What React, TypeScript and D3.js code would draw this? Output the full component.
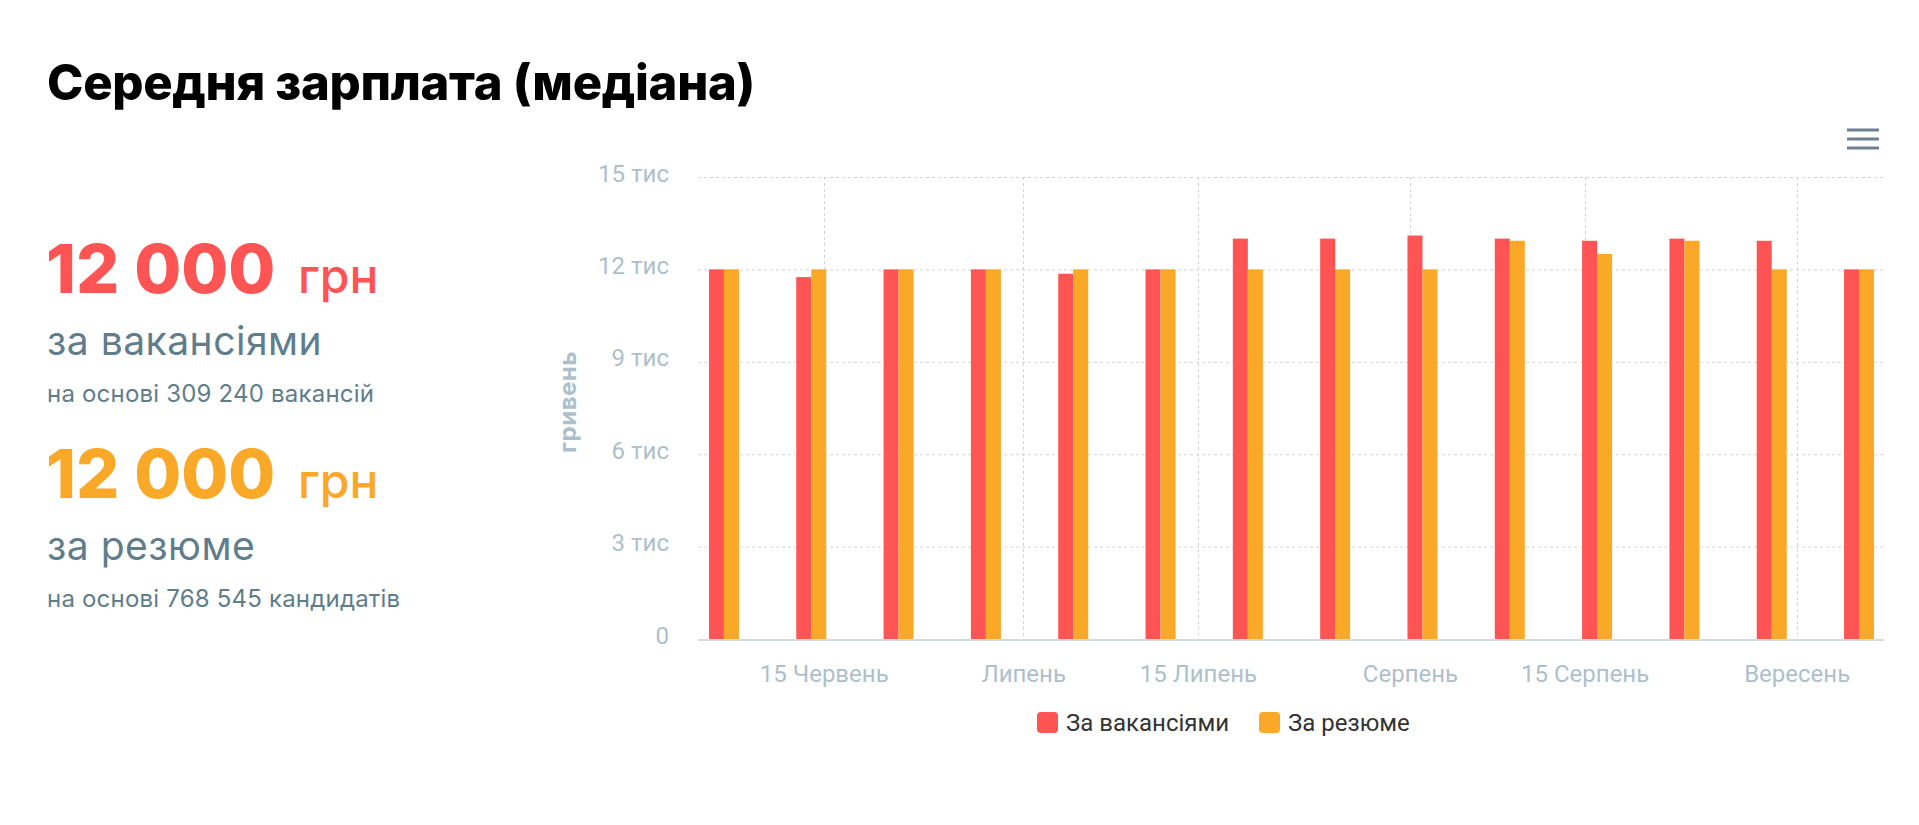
import { useEffect, useRef } from "react";
import * as d3 from "d3";

// weekly medians, summer 2020
const weeks = [
  "2020-06-07", "2020-06-14", "2020-06-21", "2020-06-28", "2020-07-05",
  "2020-07-12", "2020-07-19", "2020-07-26", "2020-08-02", "2020-08-09",
  "2020-08-16", "2020-08-23", "2020-08-30", "2020-09-06",
];
const vacancyMedian = [12000, 11750, 12000, 12000, 11860, 12000, 13000, 13000, 13100, 13000, 12930, 13000, 12930, 12000];
const resumeMedian = [12000, 12000, 12000, 12000, 12000, 12000, 12000, 12000, 12000, 12930, 12500, 12930, 12000, 12000];

const xTickDates = ["2020-06-15", "2020-07-01", "2020-07-15", "2020-08-01", "2020-08-15", "2020-09-01"];
const xTickLabels = ["15 Червень", "Липень", "15 Липень", "Серпень", "15 Серпень", "Вересень"];
const yTicks = [0, 3000, 6000, 9000, 12000, 15000];
const yTickLabels = ["0", "3 тис", "6 тис", "9 тис", "12 тис", "15 тис"];

const seriesNames = ["За вакансіями", "За резюме"];
const colors = ["#FF5454", "#F9A828"];

const parse = d3.timeParse("%Y-%m-%d");

const App = () => {
  const svgRef = useRef<SVGSVGElement>(null);

  useEffect(() => {
    const svg = d3.select(svgRef.current);
    svg.selectAll("*").remove();

    const plot = { left: 698, right: 1884, top: 177, bottom: 639 };

    // title
    svg
      .append("text")
      .attr("x", 47)
      .attr("y", 100)
      .attr("font-family", "Inter")
      .attr("font-weight", 800)
      .attr("font-size", 49)
      .attr("letter-spacing", -0.3)
      .attr("fill", "#000")
      .text("Середня зарплата (медіана)");

    // summary block on the left
    const summary = [
      { value: "12 000", color: colors[0], label: "за вакансіями", note: "на основі 309 240 вакансій", y: 293 },
      { value: "12 000", color: colors[1], label: "за резюме", note: "на основі 768 545 кандидатів", y: 498 },
    ];
    summary.forEach((s) => {
      svg
        .append("text")
        .attr("x", 46)
        .attr("y", s.y)
        .attr("font-family", "Inter")
        .attr("font-weight", 800)
        .attr("font-size", 68)
        .attr("fill", s.color)
        .text(s.value);
      svg
        .append("text")
        .attr("x", 298)
        .attr("y", s.y)
        .attr("font-family", "Inter")
        .attr("font-weight", 500)
        .attr("font-size", 48)
        .attr("fill", s.color)
        .text("грн");
      svg
        .append("text")
        .attr("x", 47)
        .attr("y", s.y + 62)
        .attr("font-family", "Inter")
        .attr("font-size", 39)
        .attr("letter-spacing", 0.5)
        .attr("fill", "#607d8b")
        .text(s.label);
      svg
        .append("text")
        .attr("x", 47)
        .attr("y", s.y + 109)
        .attr("font-family", "Inter")
        .attr("font-size", 24)
        .attr("letter-spacing", 0.2)
        .attr("fill", "#607d8b")
        .text(s.note);
    });

    // scales
    const xScale = d3
      .scaleTime()
      .domain([parse("2020-06-05"), parse("2020-09-08")])
      .range([plot.left + 1, plot.right]);
    const yScale = d3.scaleLinear().domain([0, 15000]).range([plot.bottom, plot.top]);

    // grid
    svg
      .append("g")
      .selectAll("line")
      .data(yTicks.slice(1))
      .join("line")
      .attr("x1", plot.left)
      .attr("x2", plot.right)
      .attr("y1", (d) => yScale(d) + 0.5)
      .attr("y2", (d) => yScale(d) + 0.5)
      .attr("stroke", "#d4d4d4")
      .attr("stroke-dasharray", "3,3");
    svg
      .append("g")
      .selectAll("line")
      .data(xTickDates)
      .join("line")
      .attr("x1", (d) => Math.round(xScale(parse(d))) + 0.5)
      .attr("x2", (d) => Math.round(xScale(parse(d))) + 0.5)
      .attr("y1", plot.top)
      .attr("y2", plot.bottom)
      .attr("stroke", "#d4d4d4")
      .attr("stroke-dasharray", "3,3");

    // y labels
    const yAxis = d3.axisLeft(yScale).tickValues(yTicks).tickSize(0).tickPadding(0)
      .tickFormat((_, i) => yTickLabels[i]);
    const gy = svg.append("g").attr("transform", `translate(669,0)`).call(yAxis);
    gy.select(".domain").remove();
    gy.selectAll("text")
      .attr("font-family", "Roboto")
      .attr("font-size", 24)
      .attr("fill", "#aebfcc")
      .attr("dy", 4);

    svg
      .append("text")
      .attr("transform", "translate(576,402) rotate(-90)")
      .attr("text-anchor", "middle")
      .attr("font-family", "Inter")
      .attr("font-weight", 700)
      .attr("font-size", 24)
      .attr("letter-spacing", 0.5)
      .attr("fill", "#aebfcc")
      .text("гривень");

    // bars
    const barW = 15;
    const series = [vacancyMedian, resumeMedian];
    series.forEach((values, si) => {
      svg
        .append("g")
        .selectAll("rect")
        .data(values)
        .join("rect")
        .attr("x", (_, i) => xScale(parse(weeks[i])) - barW + si * barW)
        .attr("y", (d) => yScale(d))
        .attr("width", barW)
        .attr("height", (d) => plot.bottom - yScale(d))
        .attr("fill", colors[si]);
    });

    // x axis
    svg
      .append("line")
      .attr("x1", plot.left)
      .attr("x2", plot.right)
      .attr("y1", plot.bottom + 1)
      .attr("y2", plot.bottom + 1)
      .attr("stroke", "#d3dce3")
      .attr("stroke-width", 2);
    const xAxis = d3
      .axisBottom(xScale)
      .tickValues(xTickDates.map((d) => parse(d)))
      .tickSize(0)
      .tickPadding(0)
      .tickFormat((_, i) => xTickLabels[i]);
    const gx = svg.append("g").attr("transform", `translate(0,${plot.bottom})`).call(xAxis);
    gx.select(".domain").remove();
    gx.selectAll("text")
      .attr("font-family", "Roboto")
      .attr("font-size", 24)
      .attr("fill", "#aebfcc")
      .attr("dy", 0)
      .attr("y", 43);

    // legend
    const legendX = [1037, 1259];
    seriesNames.forEach((name, i) => {
      svg
        .append("rect")
        .attr("x", legendX[i])
        .attr("y", 712)
        .attr("width", 21)
        .attr("height", 21)
        .attr("rx", 4)
        .attr("fill", colors[i]);
      svg
        .append("text")
        .attr("x", legendX[i] + 29)
        .attr("y", 731)
        .attr("font-family", "Roboto")
        .attr("font-size", 24)
        .attr("fill", "#333")
        .text(name);
    });

    // context menu icon
    svg
      .append("g")
      .selectAll("line")
      .data([130, 139, 148])
      .join("line")
      .attr("x1", 1847)
      .attr("x2", 1879)
      .attr("y1", (d) => d)
      .attr("y2", (d) => d)
      .attr("stroke", "#6e8192")
      .attr("stroke-width", 3);
  }, []);

  return (
    <svg
      ref={svgRef}
      width={1919}
      height={825}
      style={{ position: "absolute", left: 0, top: 0, background: "#fff" }}
    ></svg>
  );
};

export default App;
